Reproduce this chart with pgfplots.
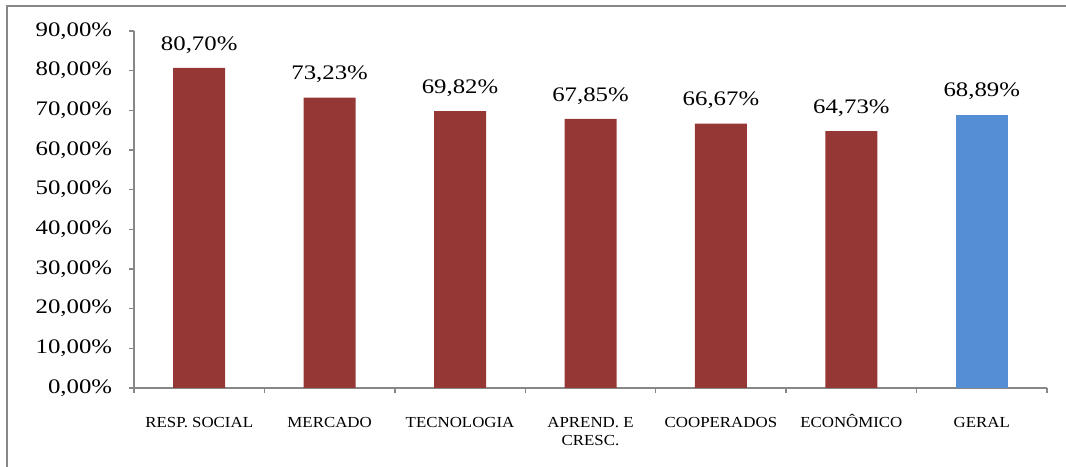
\documentclass[border=0pt]{standalone}
\usepackage{fontspec}
\setmainfont{Liberation Serif}[FakeStretch=1.2]
\newfontfamily\catfont{Liberation Serif}[FakeStretch=1.1]
\usepackage{pgfplots}
\pgfplotsset{compat=1.18}
\definecolor{barred}{HTML}{953735}
\definecolor{barblue}{HTML}{558ED5}
\definecolor{axgray}{HTML}{878787}
\begin{document}
\begin{tikzpicture}[x=1pt,y=1pt]
\path[use as bounding box] (0,0) rectangle (799.5,350.25);
\draw[axgray, line width=1pt] (5.25,0) -- (5.25,345.75) -- (799.5,345.75);
\begin{axis}[
  at={(100.5pt,59.25pt)}, anchor=south west,
  scale only axis, width=684.75pt, height=267.75pt,
  xmin=-0.5, xmax=6.5, ymin=0, ymax=90,
  axis x line*=bottom, axis y line*=left,
  axis line style={axgray, line width=1pt},
  tick align=outside, major tick length=3.5pt,
  tick style={axgray, line width=1pt},
  ytick={0,10,...,90},
  /pgf/number format/fixed, /pgf/number format/zerofill,
  /pgf/number format/precision=2, /pgf/number format/use comma,
  /pgf/number format/assume math mode=true,
  yticklabel={\pgfmathprintnumber{\tick}\%},
  yticklabel style={font=\fontsize{15.5}{18}\selectfont, anchor=east, inner sep=0pt, xshift=-12.75pt},
  xtick={-0.5,0.5,...,6.5}, xticklabels={},
  extra x ticks={0,1,2,3,4,5,6},
  extra x tick labels={RESP. SOCIAL, MERCADO, TECNOLOGIA, {\begin{tabular}[t]{@{}c@{}}APREND. E\\CRESC.\end{tabular}}, COOPERADOS, ECONÔMICO, GERAL},
  extra x tick style={major tick length=0pt, xticklabel style={font=\catfont\fontsize{11.5}{13.1}\selectfont, anchor=base, inner sep=0pt, yshift=-29.8pt}},
  nodes near coords={\pgfmathprintnumber[fixed,zerofill,precision=2,use comma,assume math mode=true]{\pgfplotspointmeta}\%},
  nodes near coords style={font=\fontsize{15.5}{18}\selectfont, anchor=base, inner sep=0pt, yshift=13.4pt, text=black},
]
\addplot[ybar, bar width=39pt, bar shift=0pt, fill=barred, draw=none]
  coordinates {(0,80.70) (1,73.23) (2,69.82) (3,67.85) (4,66.67) (5,64.73)};
\addplot[ybar, bar width=39pt, bar shift=0pt, fill=barblue, draw=none]
  coordinates {(6,68.89)};
\end{axis}
\end{tikzpicture}
\end{document}
